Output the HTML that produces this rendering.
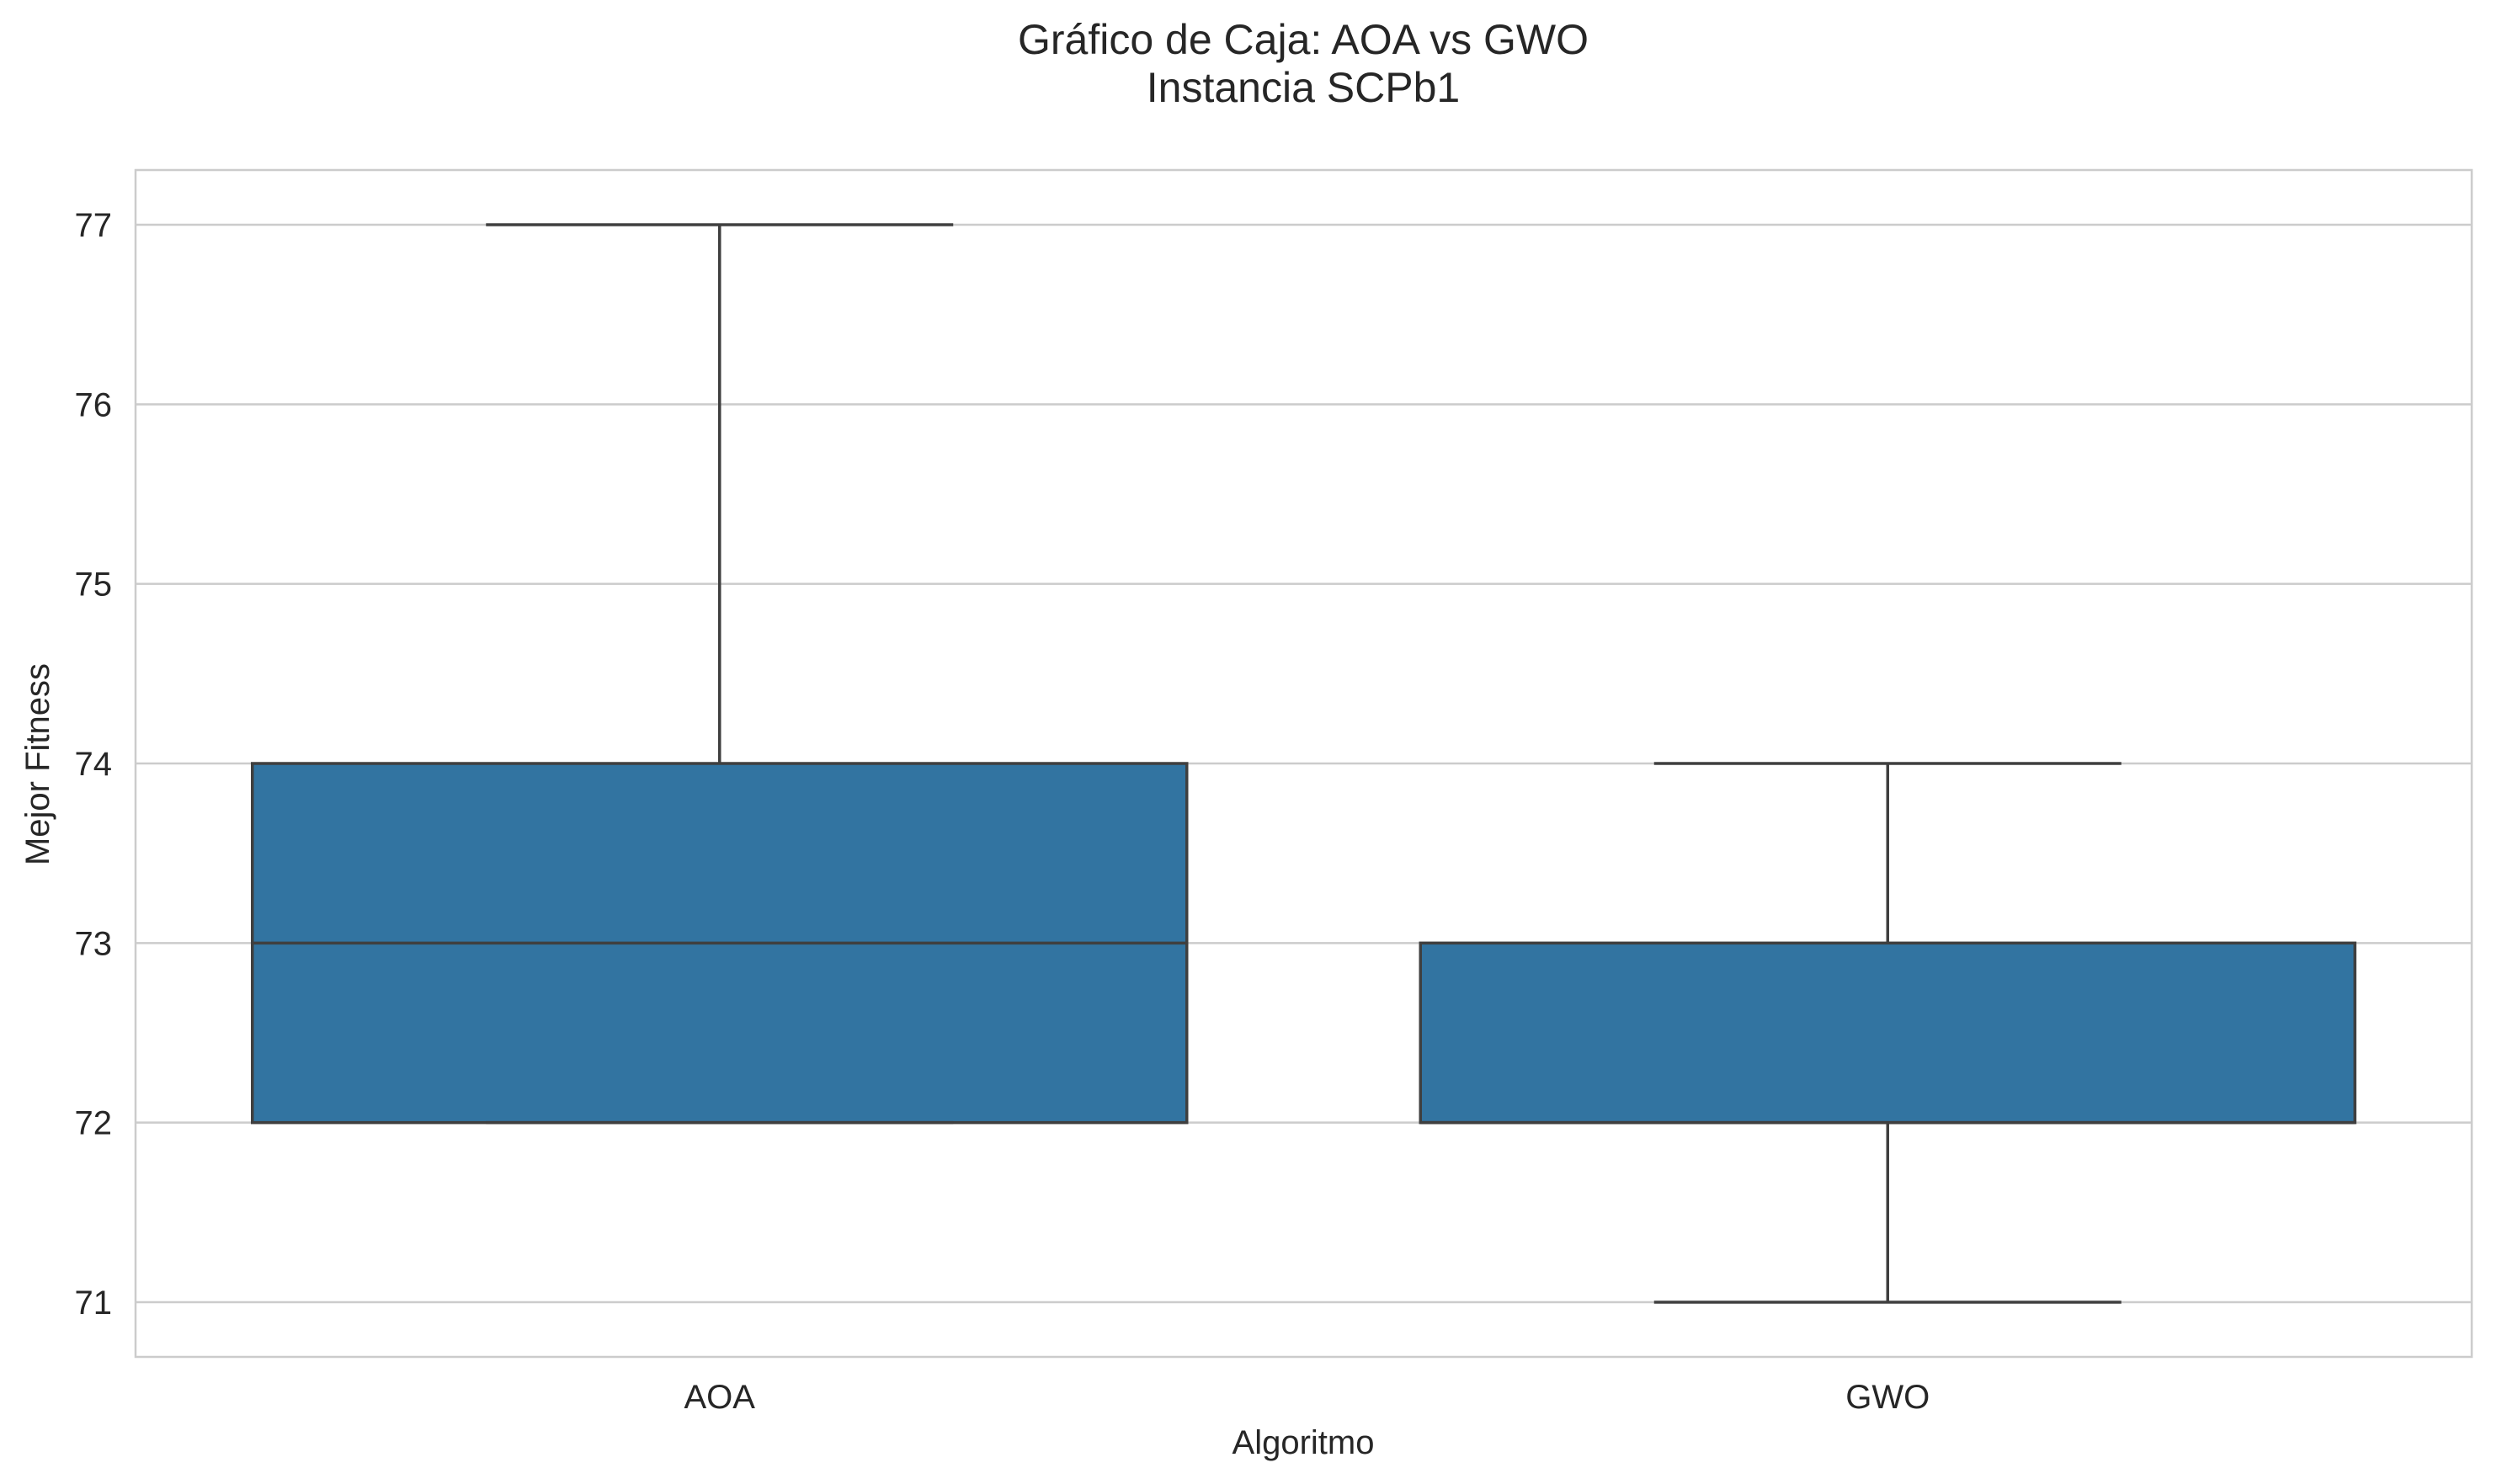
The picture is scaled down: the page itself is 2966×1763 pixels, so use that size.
<!DOCTYPE html>
<html><head><meta charset="utf-8"><style>
html,body{margin:0;padding:0;background:#fff}
svg{display:block;font-family:"Liberation Sans",Arial,sans-serif}
</style></head><body>
<svg id="chart" width="2966" height="1763" viewBox="0 0 2966 1763" xmlns="http://www.w3.org/2000/svg">
<rect width="2966" height="1763" fill="#fff"/>
<text x="1548" y="64" font-size="50" text-anchor="middle" fill="#262626">Gráfico de Caja: AOA vs GWO</text>
<text x="1548" y="121" font-size="50" text-anchor="middle" fill="#262626">Instancia SCPb1</text>
<g id="grid"></g>
<g id="boxes"></g>
<rect x="161" y="202" width="2775" height="1410" fill="none" stroke="#cccccc" stroke-width="2.5"/>
<g id="ticks"></g>
<text x="1548" y="1727" font-size="40" text-anchor="middle" fill="#262626">Algoritmo</text>
<text x="58" y="908" font-size="40" text-anchor="middle" fill="#262626" transform="rotate(-90 58 908)">Mejor Fitness</text>
</svg>
<script>
const categories = ["AOA", "GWO"];
const whiskerLow = [72, 71];
const q1 = [72, 72];
const median = [73, 72];
const q3 = [74, 73];
const whiskerHigh = [77, 74];
const yTicks = [71, 72, 73, 74, 75, 76, 77];

const NS = "http://www.w3.org/2000/svg";
const left = 161, right = 2936;
function y(v){ return 1547 + (v - 71) * (267 - 1547) / 6; }
const band = (right - left) / categories.length;
function xc(i){ return left + band * (i + 0.5); }
function mk(tag, attrs, parent){
  const e = document.createElementNS(NS, tag);
  for (const k in attrs) e.setAttribute(k, attrs[k]);
  document.getElementById(parent).appendChild(e);
  return e;
}
yTicks.forEach(t => {
  const g = mk("line", {x1: left, x2: right, y1: y(t), y2: y(t), stroke: "#cccccc", "stroke-width": 2.5}, "grid");
  
  
  const tx = mk("text", {x: 133, y: y(t) + 14, "font-size": 40, "text-anchor": "end", fill: "#262626"}, "ticks");
  tx.textContent = t;
  
  
});
categories.forEach((c, i) => {
  const cx = xc(i), bw = band * 0.8, cw = bw / 2;
  const st = {stroke: "#3f3f3f", "stroke-width": 3.5};
  const w1 = mk("line", Object.assign({x1: cx, x2: cx, y1: y(q3[i]), y2: y(whiskerHigh[i])}, st), "boxes");
  
  
  const w2 = mk("line", Object.assign({x1: cx, x2: cx, y1: y(q1[i]), y2: y(whiskerLow[i])}, st), "boxes");
  
  
  const box = mk("rect", Object.assign({x: cx - bw/2, y: y(q3[i]), width: bw, height: y(q1[i]) - y(q3[i]), fill: "#3274a1"}, st), "boxes");
  
  
  const md = mk("line", Object.assign({x1: cx - bw/2, x2: cx + bw/2, y1: y(median[i]), y2: y(median[i])}, st), "boxes");
  
  
  const c1 = mk("line", Object.assign({x1: cx - cw/2, x2: cx + cw/2, y1: y(whiskerHigh[i]), y2: y(whiskerHigh[i])}, st), "boxes");
  
  
  const c2 = mk("line", Object.assign({x1: cx - cw/2, x2: cx + cw/2, y1: y(whiskerLow[i]), y2: y(whiskerLow[i])}, st), "boxes");
  
  
  const lb = mk("text", {x: cx, y: 1673, "font-size": 40, "text-anchor": "middle", fill: "#262626"}, "ticks");
  lb.textContent = c;
  
  
});
</script>
</body></html>
